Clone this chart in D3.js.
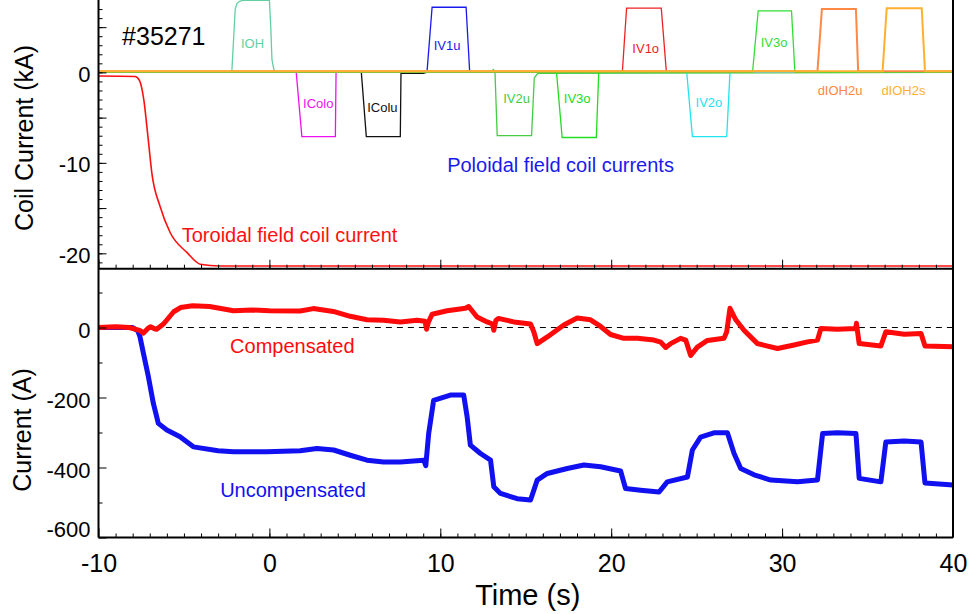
<!DOCTYPE html>
<html>
<head>
<meta charset="utf-8">
<script src="https://cdn.jsdelivr.net/npm/d3@7"></script>
<style>
body { margin: 0; background: #fff; }
svg text { font-family: "Liberation Sans", Arial, Helvetica, sans-serif; }
</style>
</head>
<body>
<div id="canvas"></div>
<script>
// ---- data (time in s, coil current in kA, plasma current in A) ----
var shot = '#35271';

var time_ticks = [-10, 0, 10, 20, 30, 40];
var coil_tick_labels = [0, -10, -20];
var current_tick_labels = [0, -200, -400, -600];

// toroidal field coil current
var tf_current = [[-10, -0.4], [-7.86, -0.45], [-7.6, -0.9], [-7.35, -3.0], [-7.09, -7.4], [-6.88, -11.1],
	[-6.4, -14.8], [-5.81, -17.7], [-4.83, -19.9], [-4.05, -21.2], [-2.9, -21.4], [40, -21.4]];

// poloidal field coils
var coil_names = ['IOH', 'IColo', 'IColu', 'IV1u', 'IV2u', 'IV3o', 'IV1o', 'IV2o', 'IV3o', 'dIOH2u', 'dIOH2s'];
var coil_colors = ['#62cfa2', '#ee11ee', '#111111', '#1a1aee', '#44cc44', '#22dd22', '#ee2222', '#22e4f0', '#33dd33', '#ff8844', '#ffb030'];
var IOH    = [[-10, 0.05], [-2.2, 0.05], [-2.1, 3.5], [-2.0, 7.0], [-1.9, 7.6], [-1.75, 7.85], [-1.55, 7.95], [0.0, 7.95], [0.08, 5.0], [0.15, 1.4], [0.25, 0.4], [0.35, 0.05], [40, 0.05]];
var IColo  = [[-10, 0], [1.57, 0], [1.9, -7.1], [3.86, -7.1], [3.9, 0], [40, 0]];
var IColu  = [[-10, 0], [5.38, 0], [5.67, -7.1], [7.66, -7.1], [7.7, -0.1], [9.0, -0.1], [9.2, 0], [40, 0]];
var IV1u   = [[-10, 0], [9.22, 0], [9.52, 7.2], [11.51, 7.2], [11.72, 0], [40, 0]];
var IV2u   = [[-10, 0], [12.95, 0], [13.1, 0.3], [13.2, 0], [13.33, -7.0], [15.34, -7.0], [15.5, -0.6], [15.7, -0.1], [40, 0]];
var IV3o_l = [[-10, 0], [16.8, 0], [17.13, -7.2], [19.13, -7.2], [19.27, 0], [40, 0]];
var IV1o   = [[-10, 0], [20.65, 0], [20.9, 7.1], [22.93, 7.1], [23.23, 0], [40, 0]];
var IV2o   = [[-10, 0], [24.42, 0], [24.75, -7.1], [26.76, -7.1], [26.95, 0], [40, 0]];
var IV3o_u = [[-10, 0], [28.27, 0], [28.6, 6.8], [30.55, 6.8], [30.75, 0], [40, 0]];
var dIOH2u = [[-10, 0.12], [32.07, 0.12], [32.33, 7.0], [34.32, 7.0], [34.45, 0.12], [40, 0.12]];
var dIOH2s = [[-10, 0.12], [35.88, 0.12], [36.12, 7.1], [38.17, 7.1], [38.36, 0.12], [40, 0.12]];
var coil_data = [IOH, IColo, IColu, IV1u, IV2u, IV3o_l, IV1o, IV2o, IV3o_u, dIOH2u, dIOH2s];
// where each coil name sits (time, kA)
var coil_label_at = [[-0.99, 2.7], [2.86, -3.96], [6.61, -4.33], [10.4, 2.49], [14.46, -3.34], [18.01, -3.34],
	[22.02, 2.19], [25.72, -3.85], [29.53, 2.78], [33.39, -2.49], [37.1, -2.49]];

// vertical plasma current
var compensated = [[-10, 0], [-9, 2], [-8.2, 0], [-7.6, -8], [-7.37, -16], [-7.1, -2], [-6.95, 2], [-6.75, -3],
	[-6.6, -5], [-6.2, 10], [-5.6, 45], [-5.2, 57], [-4.5, 62], [-3.5, 60], [-2.1, 48], [-1, 50], [0, 48],
	[1.8, 47], [2.57, 54], [3.74, 46], [4.73, 32], [5.71, 22], [6.68, 21], [7.66, 16], [8.64, 21], [9.1, 18],
	[9.2, -5], [9.3, 15], [9.52, 38], [10.4, 48], [11.47, 55], [11.66, 60], [12.15, 30], [12.74, 16], [13.05, 10],
	[13.13, -8], [13.25, 20], [13.4, 26], [14.3, 16], [15.28, 10], [15.47, -12], [15.67, -46], [16.26, -27],
	[17.23, 7], [18.01, 27], [18.79, 22], [19.38, 3], [19.96, -20], [20.74, -31], [21.53, -31], [22.5, -36],
	[22.9, -42], [23.19, -57], [23.48, -46], [24.06, -31], [24.36, -36], [24.65, -80], [25.04, -56], [25.63, -37],
	[26.6, -31], [26.76, -12], [26.95, 55], [27.29, 22], [27.77, -8], [28.56, -46], [29.73, -60], [30.7, -50],
	[31.49, -41], [32.07, -36], [32.27, -3], [33.24, -5], [34.3, -3], [34.35, 12], [34.51, -46], [35.78, -53],
	[36.07, -12], [37.15, -19], [38.13, -17], [38.36, -53], [40, -55]];
var uncompensated = [[-10, 0], [-8, 0], [-7.7, -10], [-7.57, -27], [-7.37, -74], [-7.08, -141], [-6.79, -217],
	[-6.5, -274], [-6.0, -293], [-5.23, -312], [-4.45, -341], [-3, -352], [-2.1, -355], [-0.15, -355], [1.8, -352],
	[2.78, -346], [3.76, -350], [4.73, -365], [5.71, -379], [6.68, -384], [7.66, -384], [9.03, -379], [9.15, -395],
	[9.32, -303], [9.61, -208], [10.59, -193], [11.37, -193], [11.57, -255], [11.76, -336], [12.35, -360],
	[12.94, -379], [13.13, -455], [13.52, -474], [14.5, -489], [15.28, -493], [15.67, -436], [16.26, -417],
	[17.43, -403], [18.4, -393], [19.38, -398], [20.55, -410], [20.84, -460], [21.72, -465], [22.8, -470],
	[23.28, -441], [24.46, -427], [24.75, -350], [25.23, -313], [26.01, -301], [26.8, -301], [27.19, -360],
	[27.58, -403], [28.36, -421], [29.34, -436], [30.9, -441], [32.07, -436], [32.37, -303], [33.24, -301],
	[34.32, -303], [34.51, -431], [35.78, -441], [36.07, -327], [37.15, -324], [38.13, -327], [38.36, -444], [40, -450]];
var zero_line = [[-6.7, 0], [40, 0]];

/* ------------- d3 definitions ---------- */
var width = 970,
	height = 614;

var x_scale = d3.scaleLinear().domain([-10, 40]).range([98.5, 953]);
var y_top = d3.scaleLinear().domain([-21.7, 8]).range([268.7, 0]);
var y_bot = d3.scaleLinear().domain([-600, 168]).range([537.5, 268.7]);

function lineFor(y) {
	return d3.line()
		.x(function(d) { return x_scale(d[0]); })
		.y(function(d) { return y(d[1]); });
}

var canvas = d3.select('#canvas')
	.append('svg')
	.attr('width', width)
	.attr('height', height);

// ---- top panel ----
canvas.append('path')
	.attr('d', lineFor(y_top).curve(d3.curveMonotoneX)(tf_current))
	.attr('fill', 'none')
	.attr('stroke', '#ff1010')
	.attr('stroke-width', 1.6);

coil_data.forEach(function(c, i) {
	var orange = coil_names[i].indexOf('dIOH') === 0;
	canvas.append('path')
		.attr('d', lineFor(y_top)(c))
		.attr('fill', 'none')
		.attr('stroke', coil_colors[i])
		.attr('stroke-width', orange ? 2 : 1.3);
});

canvas.selectAll('.coil-label')
	.data(coil_names)
	.enter()
	.append('text')
		.attr('class', 'coil-label')
		.attr('x', function(d, i) { return x_scale(coil_label_at[i][0]); })
		.attr('y', function(d, i) { return y_top(coil_label_at[i][1]); })
		.attr('text-anchor', 'middle')
		.attr('font-size', 13)
		.attr('fill', function(d, i) { return coil_colors[i]; })
		.text(function(d) { return d; });

canvas.append('text')
	.attr('x', x_scale(-8.62)).attr('y', y_top(3.04))
	.attr('font-size', 25)
	.text(shot);

canvas.append('text')
	.attr('x', x_scale(10.4)).attr('y', y_top(-11.0))
	.attr('font-size', 20).attr('fill', '#1a1aee')
	.text('Poloidal field coil currents');

canvas.append('text')
	.attr('x', x_scale(-5.13)).attr('y', y_top(-18.7))
	.attr('font-size', 20).attr('fill', '#ff1010')
	.text('Toroidal field coil current');

// ---- bottom panel ----
canvas.append('path')
	.attr('d', lineFor(y_bot)(zero_line))
	.attr('fill', 'none')
	.attr('stroke', 'black')
	.attr('stroke-dasharray', '6,5');

// the measured traces are noisy, so they get a wide stroke
canvas.append('path')
	.attr('d', lineFor(y_bot)(uncompensated))
	.attr('fill', 'none')
	.attr('stroke', '#1010f0')
	.attr('stroke-width', 5)
	.attr('stroke-linejoin', 'round');

canvas.append('path')
	.attr('d', lineFor(y_bot)(compensated))
	.attr('fill', 'none')
	.attr('stroke', '#ff0a0a')
	.attr('stroke-width', 5)
	.attr('stroke-linejoin', 'round');

canvas.append('text')
	.attr('x', x_scale(-2.3)).attr('y', y_bot(-73))
	.attr('font-size', 20).attr('fill', '#ff0a0a')
	.text('Compensated');

canvas.append('text')
	.attr('x', x_scale(-2.88)).attr('y', y_bot(-483))
	.attr('font-size', 20).attr('fill', '#1010f0')
	.text('Uncompensated');

// ---- axes ----
function noDomain(g) { g.select('.domain').remove(); }

// top panel: y ticks
canvas.append('g')
	.attr('transform', 'translate(' + x_scale(-10) + ',0)')
	.call(d3.axisLeft(y_top).tickValues(d3.range(-21, 8)).tickSize(-4).tickFormat(''))
	.call(noDomain);
canvas.append('g')
	.attr('transform', 'translate(' + x_scale(-10) + ',0)')
	.call(d3.axisLeft(y_top).tickValues([5, 0, -5, -10, -15, -20]).tickSize(-8).tickPadding(8)
		.tickFormat(function(d) { return coil_tick_labels.indexOf(d) >= 0 ? String(d) : ''; }))
	.call(noDomain)
	.call(function(g) { g.selectAll('text').attr('font-size', 22).attr('fill', 'black').attr('font-family', null).attr('dy', '0.4em'); });

// top panel: x ticks (no labels)
canvas.append('g')
	.attr('transform', 'translate(0,' + y_top(-21.7) + ')')
	.call(d3.axisBottom(x_scale).tickValues(d3.range(-9, 40)).tickSize(-4).tickFormat(''))
	.call(noDomain);
canvas.append('g')
	.attr('transform', 'translate(0,' + y_top(-21.7) + ')')
	.call(d3.axisBottom(x_scale).tickValues(time_ticks).tickSize(-9).tickFormat(''))
	.call(noDomain);

// bottom panel: y ticks
canvas.append('g')
	.attr('transform', 'translate(' + x_scale(-10) + ',0)')
	.call(d3.axisLeft(y_bot).tickValues([100, -100, -300, -500]).tickSize(-4).tickFormat(''))
	.call(noDomain);
canvas.append('g')
	.attr('transform', 'translate(' + x_scale(-10) + ',0)')
	.call(d3.axisLeft(y_bot).tickValues(current_tick_labels).tickSize(-8).tickPadding(8)
		.tickFormat(function(d) { return String(d); }))
	.call(noDomain)
	.call(function(g) {
		g.selectAll('text').attr('font-size', 22).attr('fill', 'black').attr('font-family', null)
			.attr('dy', function(d) { return d === -600 ? '-0.05em' : '0.45em'; });
	});

// bottom panel: x ticks with labels
canvas.append('g')
	.attr('transform', 'translate(0,' + y_bot(-600) + ')')
	.call(d3.axisBottom(x_scale).tickValues(d3.range(-9, 40)).tickSize(-4).tickFormat(''))
	.call(noDomain);
canvas.append('g')
	.attr('transform', 'translate(0,' + y_bot(-600) + ')')
	.call(d3.axisBottom(x_scale).tickValues(time_ticks).tickSize(-9).tickPadding(17)
		.tickFormat(function(d) { return String(d); }))
	.call(noDomain)
	.call(function(g) { g.selectAll('text').attr('font-size', 25).attr('fill', 'black').attr('font-family', null); });

canvas.selectAll('.tick line').attr('stroke', 'black');

// frame
var frame = canvas.append('g').attr('stroke', 'black').attr('stroke-width', 2).attr('fill', 'none');
frame.append('line').attr('x1', x_scale(-10)).attr('x2', x_scale(-10)).attr('y1', 0).attr('y2', y_bot(-600));
frame.append('line').attr('x1', x_scale(40)).attr('x2', x_scale(40)).attr('y1', 0).attr('y2', y_bot(-600));
frame.append('line').attr('x1', x_scale(-10)).attr('x2', x_scale(40)).attr('y1', y_top(-21.7)).attr('y2', y_top(-21.7));
frame.append('line').attr('x1', x_scale(-10)).attr('x2', x_scale(40)).attr('y1', y_bot(-600)).attr('y2', y_bot(-600));

// titles
canvas.append('text')
	.attr('transform', 'translate(33,' + 138 + ') rotate(-90)')
	.attr('text-anchor', 'middle').attr('font-size', 25)
	.text('Coil Current (kA)');
canvas.append('text')
	.attr('transform', 'translate(31,' + 430 + ') rotate(-90)')
	.attr('text-anchor', 'middle').attr('font-size', 25)
	.text('Current (A)');
canvas.append('text')
	.attr('x', (x_scale(-10) + x_scale(40)) / 2 + 2).attr('y', 605)
	.attr('text-anchor', 'middle').attr('font-size', 29)
	.text('Time (s)');
</script>
</body>
</html>
